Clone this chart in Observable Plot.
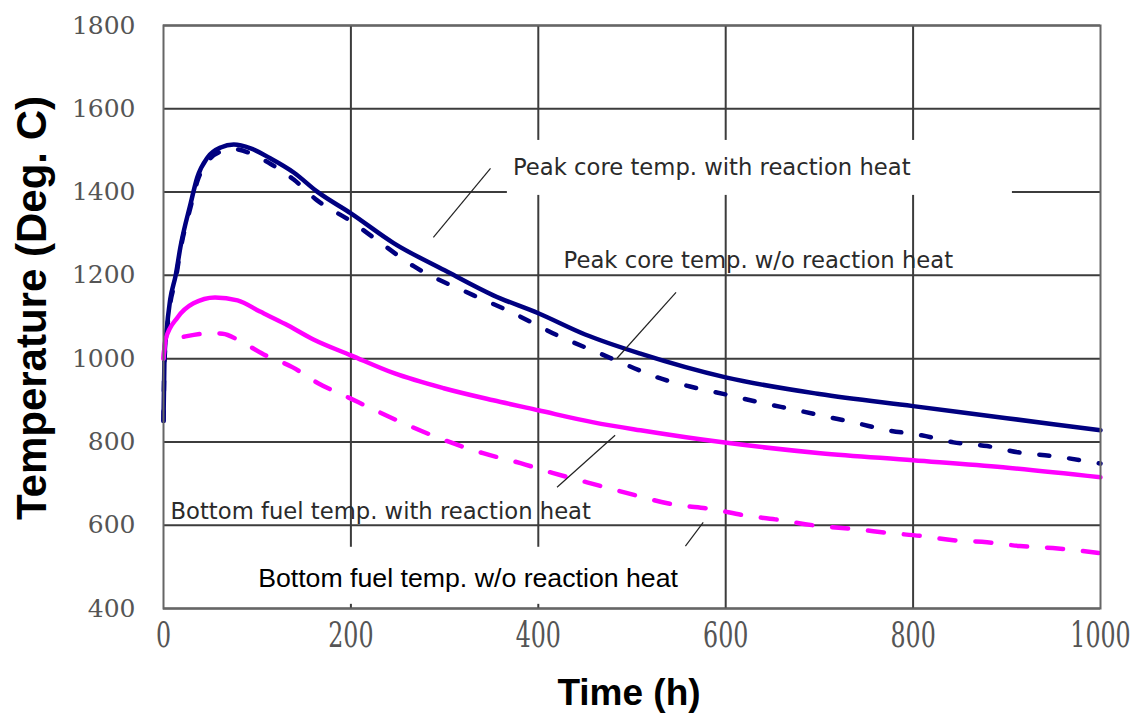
<!DOCTYPE html>
<html>
<head>
<meta charset="utf-8">
<script src="https://cdn.jsdelivr.net/npm/d3@7"></script>
<script src="https://cdn.jsdelivr.net/npm/@observablehq/plot@0.6"></script>
<style>
  body { margin: 0; background: #fff; }
</style>
</head>
<body>
<div id="chart"></div>
<script>
// Axis ticks
const xTicks = [0, 200, 400, 600, 800, 1000];
const yTicks = [400, 600, 800, 1000, 1200, 1400, 1600, 1800];

// Peak core temperature with reaction heat (h, deg C)
const peakWithTime = [0, 1, 3, 7, 13, 18, 29, 36, 47, 61, 75, 93, 114, 139, 164, 200, 246, 300, 352, 400, 450, 509, 600, 700, 800, 900, 1000];
const peakWithTemp = [850, 1000, 1060, 1140, 1200, 1267, 1373, 1435, 1483, 1507, 1514, 1505, 1481, 1447, 1401, 1349, 1277, 1212, 1152, 1109, 1058, 1012, 955, 915, 886, 857, 828];

// Peak core temperature without reaction heat
const peakWithoutTime = [0, 1, 3, 7, 13, 18, 29, 36, 47, 61, 75, 93, 114, 139, 164, 200, 224, 267, 331, 367, 427, 463, 495, 527, 562, 600, 640, 672, 701, 740, 773, 809, 843, 879, 912, 949, 1000];
const peakWithoutTemp = [850, 990, 1050, 1130, 1190, 1260, 1365, 1425, 1473, 1497, 1503, 1493, 1468, 1430, 1380, 1330, 1291, 1222, 1152, 1116, 1049, 1015, 984, 955, 933, 914, 893, 878, 864, 845, 828, 816, 799, 790, 775, 766, 748];

// Bottom fuel temperature with reaction heat
const bottomWithTime = [0, 2, 15, 32, 55, 79, 103, 130, 160, 200, 246, 299, 352, 400, 459, 509, 597, 701, 800, 896, 1000];
const bottomWithTemp = [1000, 1045, 1099, 1133, 1147, 1140, 1113, 1083, 1046, 1008, 965, 929, 900, 876, 847, 828, 799, 773, 756, 739, 715];

// Bottom fuel temperature without reaction heat
const bottomWithoutTime = [0, 2, 25, 50, 63, 82, 107, 138, 165, 197, 226, 256, 292, 341, 381, 416, 452, 495, 544, 587, 619, 653, 693, 740, 776, 809, 843, 879, 914, 949, 1000];
const bottomWithoutTemp = [1000, 1040, 1054, 1061, 1060, 1042, 1010, 979, 941, 907, 876, 845, 811, 773, 749, 725, 703, 677, 650, 638, 624, 614, 600, 590, 581, 574, 564, 559, 550, 545, 533];

// Curve annotations: text anchor (time, temp)
const labelText = [
  "Peak core temp. with reaction heat",
  "Peak core temp. w/o reaction heat",
  "Bottom fuel temp. with reaction heat",
  "Bottom fuel temp. w/o reaction heat"
];
const labelTime = [373, 427, 7.5, 101];
const labelTemp = [1458, 1235, 632, 473];

// Leader lines from each annotation to its curve
const leaderTime1 = [288, 484, 420, 557];
const leaderTemp1 = [1291, 1001, 691, 550];
const leaderTime2 = [349, 547, 482, 576];
const leaderTemp2 = [1457, 1159, 816, 607];

// Opaque label backgrounds (time range, temp range)
const boxTime1 = [367, 82];
const boxTime2 = [906, 573];
const boxTemp1 = [1392, 410];
const boxTemp2 = [1524, 547];

const rows = (times, temps) => times.map((t, i) => ({t, T: temps[i]}));
const labels = labelText.map((s, i) => ({s, t: labelTime[i], T: labelTemp[i], i}));
const leaders = leaderTime1.map((_, i) => ({x1: leaderTime1[i], y1: leaderTemp1[i], x2: leaderTime2[i], y2: leaderTemp2[i]}));
const boxes = boxTime1.map((_, i) => ({x1: boxTime1[i], x2: boxTime2[i], y1: boxTemp1[i], y2: boxTemp2[i]}));

const navy = "#000080";
const magenta = "#ff00ff";
const gridColor = "#3c3c3c";
const plain = d => String(d);

const chart = Plot.plot({
  width: 1138,
  height: 717,
  marginLeft: 163,
  marginRight: 38,
  marginTop: 25,
  marginBottom: 109,
  style: {background: "#fff", color: "#555", overflow: "visible"},
  x: {domain: [0, 1000]},
  y: {domain: [400, 1800]},
  marks: [
    Plot.gridY(yTicks, {stroke: gridColor, strokeOpacity: 1, strokeWidth: 2}),
    Plot.gridX([200, 400, 600, 800], {stroke: gridColor, strokeOpacity: 1, strokeWidth: 2}),
    Plot.rect(boxes, {x1: "x1", x2: "x2", y1: "y1", y2: "y2", fill: "#fff"}),
    Plot.line(rows(peakWithoutTime, peakWithoutTemp), {x: "t", y: "T", stroke: navy, strokeWidth: 4.5, strokeDasharray: "10,20", curve: "monotone-x"}),
    Plot.line(rows(peakWithTime, peakWithTemp), {x: "t", y: "T", stroke: navy, strokeWidth: 4.5, curve: "monotone-x"}),
    Plot.line(rows(bottomWithoutTime, bottomWithoutTemp), {x: "t", y: "T", stroke: magenta, strokeWidth: 4.5, strokeDasharray: "16,20", curve: "monotone-x"}),
    Plot.line(rows(bottomWithTime, bottomWithTemp), {x: "t", y: "T", stroke: magenta, strokeWidth: 4.5, curve: "monotone-x"}),
    Plot.link(leaders, {x1: "x1", y1: "y1", x2: "x2", y2: "y2", stroke: "#222", strokeWidth: 1.2}),
    Plot.text(labels.filter(d => d.i !== 3), {
      x: "t", y: "T", text: "s", textAnchor: "start", lineAnchor: "middle",
      fontSize: 22.7, fontFamily: "DejaVu Sans", fill: "#2a2a2a"
    }),
    Plot.text(labels.filter(d => d.i === 3), {
      x: "t", y: "T", text: "s", textAnchor: "start", lineAnchor: "middle",
      fontSize: 26.7, fontFamily: "Liberation Sans", fill: "#000"
    }),
    Plot.frame({stroke: "#666", strokeWidth: 2}),
    Plot.axisY(yTicks, {tickSize: 0, tickPadding: 28, fontSize: 25, fontFamily: "DejaVu Serif", tickFormat: plain, label: null}),
    Plot.axisX(xTicks, {tickSize: 0, tickPadding: 13, fontSize: 25, fontFamily: "DejaVu Serif", tickFormat: plain, label: null}),
    Plot.text(["Temperature (Deg. C)"], {
      frameAnchor: "left", rotate: -90, dx: -131, dy: -9, textAnchor: "middle", lineAnchor: "middle",
      fontSize: 42, fontWeight: "bold", fontFamily: "Liberation Sans", fill: "#000"
    }),
    Plot.text(["Time (h)"], {
      frameAnchor: "bottom", dy: 85, dx: -3, textAnchor: "middle", lineAnchor: "middle",
      fontSize: 37, fontWeight: "bold", fontFamily: "Liberation Sans", fill: "#000"
    })
  ]
});

// Tall, narrow digits on the time axis
chart.querySelectorAll('g[aria-label="x-axis tick label"] text').forEach(el => {
  const tr = el.getAttribute("transform") || "";
  el.setAttribute("transform", tr + " scale(0.95,1.45)");
});

document.getElementById("chart").appendChild(chart);
</script>
</body>
</html>
